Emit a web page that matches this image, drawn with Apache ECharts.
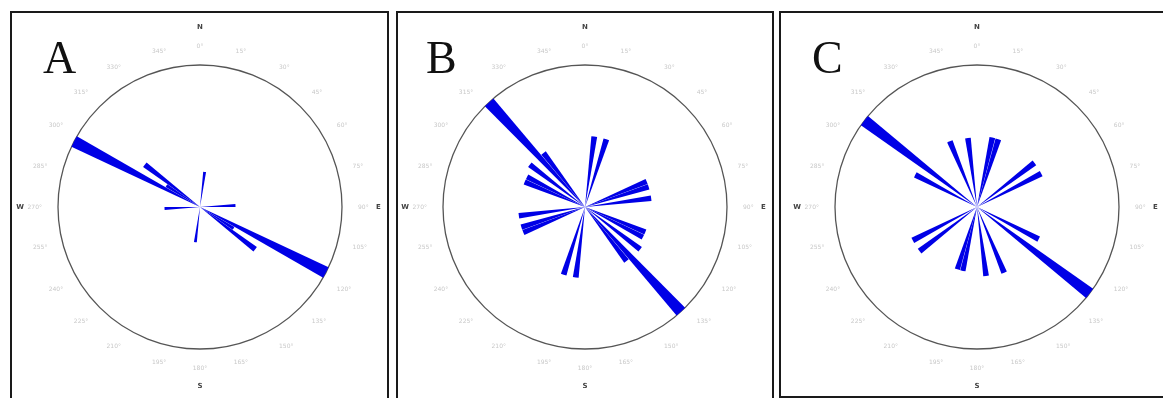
<!DOCTYPE html>
<html>
<head>
<meta charset="utf-8">
<script src="https://cdn.jsdelivr.net/npm/echarts@6/dist/echarts.min.js"></script>
<style>
  html, body { margin: 0; padding: 0; background: #fff; }
  #chart { width: 1163px; height: 398px; }
</style>
</head>
<body>
<div id="chart"></div>
<script>
// 5 degree bins (bin centres, azimuth clockwise from north)
const bins = Array.from({ length: 72 }, (_, i) => i * 5 + 2.5);

// degree labels around each rose, every 15 degrees
const degLabels = ['0°', '15°', '30°', '45°', '60°', '75°', '90°', '105°', '120°', '135°', '150°', '165°',
  '180°', '195°', '210°', '225°', '240°', '255°', '270°', '285°', '300°', '315°', '330°', '345°'];
const cardinals = ['N', 'E', 'S', 'W'];

// petals: direction (bin centre) and length (% of outer circle)
const dirA = [297.5, 302.5, 307.5, 7.5, 87.5, 117.5, 122.5, 127.5, 187.5, 267.5];
const lenA = [100, 28, 49, 25, 25, 100, 28, 49, 25, 25];

const dirB = [317.5, 322.5, 307.5, 292.5, 297.5, 7.5, 17.5, 67.5, 72.5, 82.5,
  137.5, 142.5, 127.5, 112.5, 117.5, 187.5, 197.5, 247.5, 252.5, 262.5];
const lenB = [100, 48, 49, 46, 46, 50, 50, 47, 47, 47,
  100, 48, 49, 46, 46, 50, 50, 47, 47, 47];

const dirC = [307.5, 297.5, 337.5, 352.5, 12.5, 17.5, 52.5, 62.5,
  127.5, 117.5, 157.5, 172.5, 192.5, 197.5, 232.5, 242.5];
const lenC = [100, 49, 50, 49, 50, 50, 51, 51,
  100, 49, 50, 49, 46, 46, 51, 51];

const panels = [
  { name: 'A', cx: 200, dirs: dirA, lens: lenA, frame: [11, 12, 377, 420], lx: 43 },
  { name: 'B', cx: 585, dirs: dirB, lens: lenB, frame: [397, 12, 376, 420], lx: 426 },
  { name: 'C', cx: 977, dirs: dirC, lens: lenC, frame: [780, 12, 420, 385], lx: 812 }
];
const CY = 207;
const R = 142;
const BLUE = '#0000e6';

const toBins = (dirs, lens) => {
  const out = bins.map(() => 0);
  dirs.forEach((d, i) => { out[Math.floor(d / 5)] = lens[i]; });
  return out;
};

const chart = echarts.init(document.getElementById('chart'), null, { renderer: 'canvas' });

const polar = [], angleAxis = [], radiusAxis = [], series = [], graphic = [];
panels.forEach((p, k) => {
  // bars polar
  polar.push({ center: [p.cx, CY], radius: R });
  angleAxis.push({
    polarIndex: 3 * k, type: 'category', data: bins, startAngle: 90, clockwise: true,
    boundaryGap: true,
    axisLine: { show: true, lineStyle: { color: '#555', width: 1.3 } },
    axisTick: { show: false }, axisLabel: { show: false }, splitLine: { show: false }
  });
  radiusAxis.push({ polarIndex: 3 * k, type: 'value', min: 0, max: 100, show: false });
  series.push({
    type: 'bar', coordinateSystem: 'polar', polarIndex: 3 * k,
    data: toBins(p.dirs, p.lens), barCategoryGap: '6%',
    itemStyle: { color: BLUE }, silent: true
  });

  // degree labels polar
  polar.push({ center: [p.cx, CY], radius: R });
  angleAxis.push({
    polarIndex: 3 * k + 1, type: 'value', min: 0, max: 360, interval: 15,
    startAngle: 90, clockwise: true,
    axisLine: { show: false }, axisTick: { show: false }, splitLine: { show: false },
    axisLabel: {
      margin: 16, fontSize: 6, color: '#c8c8c8', fontFamily: 'DejaVu Sans',
      formatter: v => degLabels[Math.round(v / 15) % 24]
    }
  });
  radiusAxis.push({ polarIndex: 3 * k + 1, type: 'value', min: 0, max: 100, show: false });

  // cardinal letters polar
  polar.push({ center: [p.cx, CY], radius: R });
  angleAxis.push({
    polarIndex: 3 * k + 2, type: 'value', min: 0, max: 360, interval: 90,
    startAngle: 90, clockwise: true,
    axisLine: { show: false }, axisTick: { show: false }, splitLine: { show: false },
    axisLabel: {
      margin: 34, fontSize: 7, color: '#444', fontWeight: 'bold', fontFamily: 'DejaVu Sans',
      formatter: v => cardinals[Math.round(v / 90) % 4]
    }
  });
  radiusAxis.push({ polarIndex: 3 * k + 2, type: 'value', min: 0, max: 100, show: false });

  graphic.push({
    type: 'rect', shape: { x: p.frame[0], y: p.frame[1], width: p.frame[2], height: p.frame[3] },
    style: { fill: null, stroke: '#1a1a1a', lineWidth: 2 }, silent: true
  });
  graphic.push({
    type: 'text', left: p.lx, top: 38,
    style: { text: p.name, font: '46px "Liberation Serif"', fill: '#111' }, silent: true
  });
});

chart.setOption({
  animation: false,
  backgroundColor: '#fff',
  polar, angleAxis, radiusAxis, series, graphic
});
</script>
</body>
</html>
